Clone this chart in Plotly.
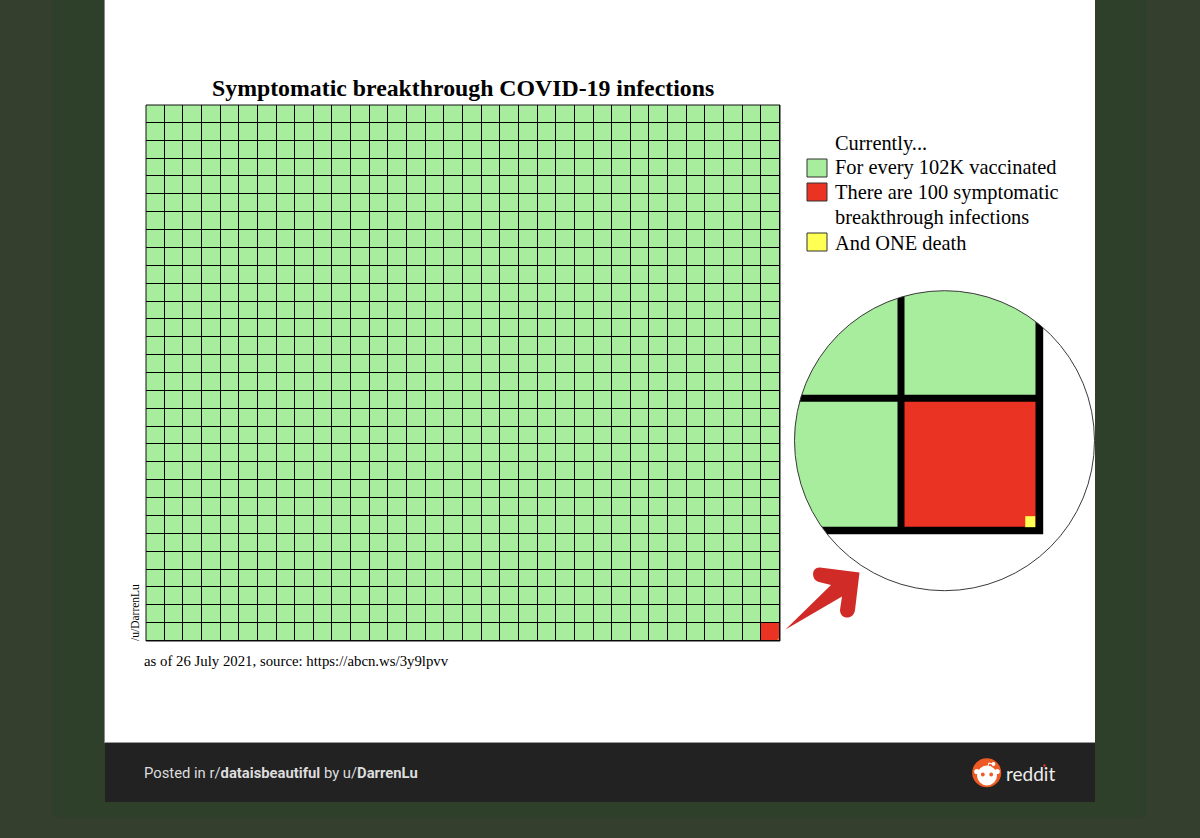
import plotly.graph_objects as go

WIDTH = 1200
HEIGHT = 838

# 102K vaccinated shown as 1020 squares, 100 infections per square
grid_cols = list(range(34))
grid_rows = list(range(30))
infected_cell = (33, 0)
death_edges_x = [33.874, 34]
death_edges_y = [0, 0.133]

title_text = "Symptomatic breakthrough COVID-19 infections"
legend_lines = [
    "Currently...",
    "For every 102K vaccinated",
    "There are 100 symptomatic",
    "breakthrough infections",
    "And ONE death",
]
source_text = "as of 26 July 2021, source: https://abcn.ws/3y9lpvv"
credit_text = "/u/DarrenLu"
footer_text = "Posted in r/<b>dataisbeautiful</b> by u/<b>DarrenLu</b>"

GREEN = "#A8EC9E"
RED = "#EA3323"
YELLOW = "#FFFF54"
SERIF = "Liberation Serif"


def fx(x):
    return x / WIDTH


def fy(y):
    return 1 - y / HEIGHT


def rect(x0, y0, x1, y1, fill, line=None, layer="below"):
    return dict(
        type="rect", xref="paper", yref="paper", layer=layer,
        x0=fx(x0), y0=fy(y0), x1=fx(x1), y1=fy(y1),
        fillcolor=fill, line=dict(color=line or fill, width=1 if line else 0),
    )


def circle(cx, cy, r, fill, line=None, width=1):
    return dict(
        type="circle", xref="paper", yref="paper", layer="above",
        x0=fx(cx - r), y0=fy(cy - r), x1=fx(cx + r), y1=fy(cy + r),
        fillcolor=fill, line=dict(color=line or fill, width=width if line else 0),
    )


def path(points, fill, line_color=None, width=0):
    # points: list of (command, x, y, ...) in page pixels
    parts = []
    for p in points:
        cmd, vals = p[0], p[1:]
        coords = []
        for i in range(0, len(vals), 2):
            coords.append(f"{fx(vals[i]):.5f},{fy(vals[i + 1]):.5f}")
        parts.append(cmd + " ".join(coords))
    return dict(
        type="path", xref="paper", yref="paper", layer="above",
        path=" ".join(parts) + " Z", fillcolor=fill,
        line=dict(color=line_color or fill, width=width),
    )


def label(x, y, text, size, font=SERIF, color="black", anchor="left", angle=0):
    return dict(
        xref="paper", yref="paper", x=fx(x), y=fy(y), text=text, showarrow=False,
        xanchor=anchor, yanchor="middle", textangle=angle,
        font=dict(family=font, size=size, color=color),
        borderpad=0, borderwidth=0,
    )


z_main = [[1 if (c, r) == infected_cell else 0 for c in grid_cols] for r in grid_rows]
x_main = [c + 0.5 for c in grid_cols]
y_main = [r + 0.5 for r in grid_rows]

fig = go.Figure()
status_scale = [[0, GREEN], [1, RED]]
yellow_scale = [[0, YELLOW], [1, YELLOW]]

fig.add_trace(go.Heatmap(
    z=z_main, x=x_main, y=y_main, xgap=1, ygap=1, colorscale=status_scale,
    zmin=0, zmax=1, showscale=False, hoverinfo="skip", xaxis="x", yaxis="y",
))
fig.add_trace(go.Heatmap(
    z=[[1]], x=death_edges_x, y=death_edges_y, xgap=1, ygap=1, colorscale=yellow_scale,
    showscale=False, hoverinfo="skip", xaxis="x", yaxis="y",
))
# zoomed copy of the same grid, cut to a circle by the mask below
fig.add_trace(go.Heatmap(
    z=z_main, x=x_main, y=y_main, xgap=7, ygap=7, colorscale=status_scale,
    zmin=0, zmax=1, showscale=False, hoverinfo="skip", xaxis="x2", yaxis="y2",
))
fig.add_trace(go.Heatmap(
    z=[[1]], x=death_edges_x, y=death_edges_y, xgap=7, ygap=7, colorscale=yellow_scale,
    showscale=False, hoverinfo="skip", xaxis="x2", yaxis="y2",
))

# circle of the zoom inset, in page pixels
CX, CY, R = 944.5, 440.7, 150
k = 0.5523 * R
mask = path([
    ("M", CX - R - 1, CY - R - 1), ("L", CX + R + 0.5, CY - R - 1),
    ("L", CX + R + 0.5, CY + R + 1), ("L", CX - R - 1, CY + R + 1), ("Z",),
    ("M", CX - R, CY),
    ("C", CX - R, CY - k, CX - k, CY - R, CX, CY - R),
    ("C", CX + k, CY - R, CX + R, CY - k, CX + R, CY),
    ("C", CX + R, CY + k, CX + k, CY + R, CX, CY + R),
    ("C", CX - k, CY + R, CX - R, CY + k, CX - R, CY),
], "white")
mask["fillrule"] = "evenodd"

shapes = [
    rect(52, 0, 1147, 817, "#2E402A"),
    rect(104, 0, 105, 743, "#8A8A8A"),
    rect(105, 0, 1095, 742, "white"),
    rect(105, 742, 1095, 802, "#222222"),
    rect(105, 742, 1095, 743, "#9A9A9A"),
    # black sheets behind the heatmaps show through the gaps as grid lines
    dict(type="rect", xref="x", yref="y", layer="below", x0=0, y0=0, x1=34, y1=30,
         fillcolor="black", line=dict(color="black", width=1)),
    dict(type="rect", xref="x2", yref="y2", layer="below", x0=0, y0=0, x1=34, y1=30,
         fillcolor="black", line=dict(color="black", width=7)),
    # outer frame, axis shapes get clipped at the plot edge
    rect(146, 105, 780, 641, "rgba(0,0,0,0)", "#111111", "above"),
    mask,
    circle(CX, CY, R, "rgba(0,0,0,0)", "#3A3A3A", 1),
    # legend swatches
    rect(807, 159, 827, 177, GREEN, "#333333", "above"),
    rect(807, 183, 827, 201, RED, "#333333", "above"),
    rect(807, 233, 827, 251, YELLOW, "#333333", "above"),
    # arrow from the red square to the inset
    path([
        ("M", 785.5, 629.5), ("L", 831, 585), ("L", 819, 582),
        ("C", 811, 580, 811, 567, 820, 567.5), ("L", 859.5, 572.5),
        ("L", 855, 610), ("C", 854, 620, 840, 620, 840, 610),
        ("L", 842, 596.5),
    ], "#D02B27"),
    # reddit mark
    circle(986.7, 772.7, 14.5, "#EE5A24"),
    circle(987, 775.5, 10, "white"),
    circle(976.8, 771.5, 2.6, "white"),
    circle(997.2, 771.5, 2.6, "white"),
    circle(982.8, 774.5, 1.9, "#EE5A24"),
    circle(991.2, 774.5, 1.9, "#EE5A24"),
    circle(993.5, 764, 1.9, "white"),
    path([("M", 987.5, 766), ("L", 988.5, 762.5), ("L", 993, 763.5), ("L", 993, 764.5),
          ("L", 989.3, 763.8), ("L", 988.6, 766)], "white"),
    circle(1044.5, 765.5, 1.2, "#E0352B"),
]

annotations = [
    label(463, 88, f"<b>{title_text}</b>", 23.8, anchor="center"),
    label(144, 661, source_text, 14.8),
    label(135, 613, credit_text, 11.5, angle=-90, anchor="center"),
    label(144, 773, footer_text, 14.8, font="Roboto", color="#DDDDDD"),
    label(1006, 773, "reddit", 19, font="Lato", color="#EEEEEE"),
]
legend_y = [143, 168, 192.5, 217.5, 242.5]
for text, y in zip(legend_lines, legend_y):
    annotations.append(label(835, y, text, 20.4))

hidden = dict(visible=False, fixedrange=True)
fig.update_layout(
    width=WIDTH, height=HEIGHT, margin=dict(l=0, r=0, t=0, b=0, pad=0),
    paper_bgcolor="#343F2D", plot_bgcolor="rgba(0,0,0,0)",
    showlegend=False, shapes=shapes, annotations=annotations,
    xaxis=dict(hidden, domain=[fx(146), fx(780)], range=[0, 34]),
    yaxis=dict(hidden, domain=[fy(641), fy(105)], range=[0, 30]),
    # one red cell = 138.7 x 131.7 px inside the inset
    xaxis2=dict(hidden, domain=[fx(CX - R), fx(CX + R)], anchor="y2",
                range=[33 + (CX - R - 901) / 138.7, 33 + (CX + R - 901) / 138.7]),
    yaxis2=dict(hidden, domain=[fy(CY + R), fy(CY - R)], anchor="x2",
                range=[(530.7 - CY - R) / 131.7, (530.7 - CY + R) / 131.7]),
)

fig.write_html("out.html", config=dict(displayModeBar=False),
               post_script="document.body.style.margin='0';document.body.style.overflow='hidden';")
